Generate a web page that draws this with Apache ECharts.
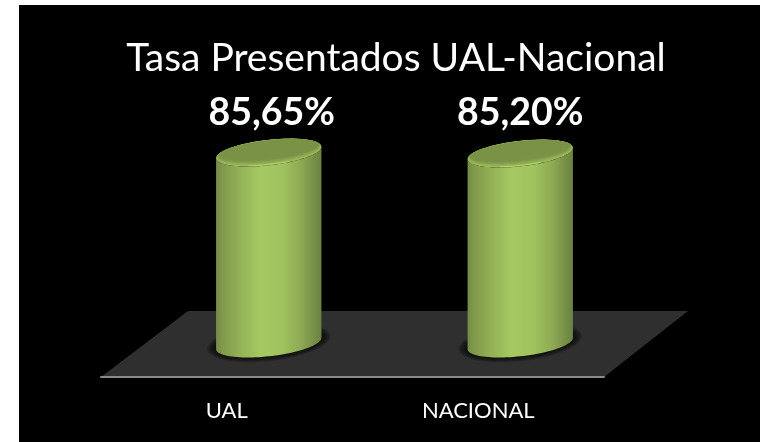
<!DOCTYPE html>
<html><head><meta charset="utf-8">
<style>html,body{margin:0;padding:0;background:#fff}#c{width:760px;height:442px}</style>
<script src="https://cdn.jsdelivr.net/npm/echarts@6/dist/echarts.min.js"></script>
</head><body><div id="c"></div>
<script>
const titleText = 'Tasa Presentados UAL-Nacional';
const categories = ['UAL', 'NACIONAL'];
const values = [85.65, 85.20];

const FONT = 'Lato, "Open Sans", sans-serif';
const chart = echarts.init(document.getElementById('c'), null, {renderer:'canvas'});
const G = echarts.graphic;
const TILT = 6.5 * Math.PI / 180, RX = 53, RY = 12.7;
function pt(cx, cy, rx, ry, t){
  const c = Math.cos(t), s = Math.sin(t);
  return [cx + rx*c*Math.cos(TILT) + ry*s*Math.sin(TILT),
          cy - rx*c*Math.sin(TILT) + ry*s*Math.cos(TILT)];
}
function ell(cx, cy, rx, ry){
  const p = [];
  for (let i = 0; i < 96; i++) p.push(pt(cx, cy, rx, ry, i/96*2*Math.PI));
  return p;
}
function arc(cx, cy, rx, ry, t0, t1){
  const p = [];
  for (let i = 0; i <= 48; i++) p.push(pt(cx, cy, rx, ry, t0 + (t1-t0)*i/48));
  return p;
}
function mix(a, b, f){
  return 'rgb(' + a.map((v,i)=>Math.round(v+(b[i]-v)*f)).join(',') + ')';
}
function renderFloor(params, api){
  const cs = params.coordSys;
  const x0 = cs.x, x1 = cs.x + cs.width, y = cs.y + cs.height;
  return {type:'polygon', shape:{points:[[x0,y],[x1,y],[x1+84,y-66],[x0+87,y-66]]},
    style:{fill:'#2f2f2f'}, silent:true};
}
function renderCyl(params, api){
  const i = api.value(0), v = api.value(1);
  const base = api.coord([i, 0]), top = api.coord([i, v]);
  const cx = base[0] + 42, by = base[1] - 33.5, ty = top[1] - 33.5;
  const tA = Math.atan2(RY*Math.sin(TILT), RX);
  const right = tA, left = tA + Math.PI;
  const body = arc(cx, by, RX, RY, right, left).concat(arc(cx, ty, RX, RY, left, right));
  const kids = [];
  for (let k = 0; k < 6; k++){
    kids.push({type:'polygon', shape:{points:ell(cx, by-1, RX+9-k*1.5, RY+6-k*1)},
      style:{fill:'rgba(10,10,10,0.22)'}});
  }
  kids.push({type:'polygon', shape:{points:body}, style:{fill:new G.LinearGradient(0,0,1,0,[
      {offset:0,color:'#738c45'},{offset:.06,color:'#80994b'},{offset:.25,color:'#96b557'},
      {offset:.42,color:'#a5c962'},{offset:.62,color:'#a1c35f'},{offset:.8,color:'#8eab54'},
      {offset:.95,color:'#728b45'},{offset:1,color:'#6a8240'}])}});
  const rim = [158,190,92], inner = [122,146,70];
  for (let k = 0; k < 8; k++){
    const f = k/7;
    kids.push({type:'polygon', shape:{points:ell(cx, ty - 2.6*f, RX - 3*f, RY - 3.6*f)},
      style:{fill:mix(rim, inner, Math.min(1, f*1.1))}});
  }
  kids.push({type:'polyline', shape:{points:arc(cx, ty, RX-1, RY-0.8, 1.2, 2.0)},
    style:{fill:null, stroke:'rgba(200,228,130,0.65)', lineWidth:1}});
  kids.push({type:'text', style:{
    text: v.toFixed(2).replace('.', ',') + '%', x: cx + (i === 0 ? 3 : 0), y: 113,
    align:'center', verticalAlign:'middle', fill:'#fff',
    font:'bold 37.5px ' + FONT}});
  return {type:'group', children:kids};
}
chart.setOption({
  animation:false,
  backgroundColor:'#ffffff',
  graphic:[{type:'rect', z:-100, silent:true, shape:{x:19,y:5,width:741,height:437}, style:{fill:'#000'}}],
  title:{text:titleText, left:391, top:34, textAlign:'center',
    textStyle:{color:'#fff', fontFamily:FONT, fontWeight:'normal', fontSize:39}},
  grid:{left:101, width:503, top:154, height:223},
  xAxis:{type:'category', data:categories, z:3,
    axisLine:{lineStyle:{color:'#8a8a8a', width:2}}, axisTick:{show:false},
    axisLabel:{margin:23, color:'#fff', fontFamily:FONT, fontSize:22}},
  yAxis:{type:'value', min:0, max:100, show:false},
  series:[
    {type:'custom', z:1, renderItem:renderFloor, data:[0], silent:true},
    {type:'custom', z:4, renderItem:renderCyl, encode:{x:0,y:1},
     data:values.map((v,i)=>[i,v]), silent:true}
  ]
});
</script></body></html>
